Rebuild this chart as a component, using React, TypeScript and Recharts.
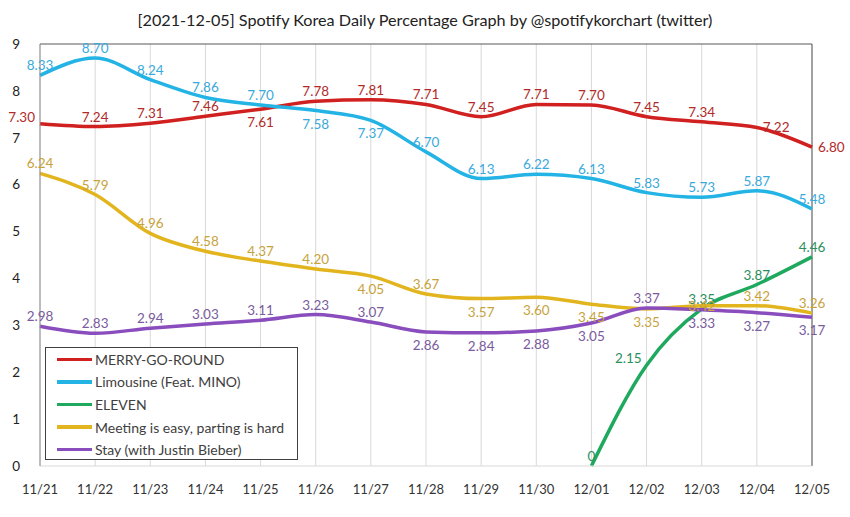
import { LineChart, Line, XAxis, YAxis, CartesianGrid, ReferenceLine } from "recharts";

const FONT = "Lato, 'Open Sans', sans-serif";

const dates = ["11/21", "11/22", "11/23", "11/24", "11/25", "11/26", "11/27", "11/28", "11/29", "11/30", "12/01", "12/02", "12/03", "12/04", "12/05"];
const merryGoRound = [7.3, 7.24, 7.31, 7.46, 7.61, 7.78, 7.81, 7.71, 7.45, 7.71, 7.7, 7.45, 7.34, 7.22, 6.8];
const limousine = [8.33, 8.7, 8.24, 7.86, 7.7, 7.58, 7.37, 6.7, 6.13, 6.22, 6.13, 5.83, 5.73, 5.87, 5.48];
const eleven = [null, null, null, null, null, null, null, null, null, null, 0, 2.15, 3.35, 3.87, 4.46];
const meeting = [6.24, 5.79, 4.96, 4.58, 4.37, 4.2, 4.05, 3.67, 3.57, 3.6, 3.45, 3.35, 3.42, 3.42, 3.26];
const stay = [2.98, 2.83, 2.94, 3.03, 3.11, 3.23, 3.07, 2.86, 2.84, 2.88, 3.05, 3.37, 3.33, 3.27, 3.17];
const yTicks = [0, 1, 2, 3, 4, 5, 6, 7, 8, 9];

// where each value label sits relative to its point
type Place = "above" | "below" | "left" | "right" | "center";
const A: Place = "above", B: Place = "below", L: Place = "left", R: Place = "right", C: Place = "center";
const mgrPlaces = [L, A, A, A, B, A, A, A, A, A, A, A, A, R, R];
const limoPlaces = [A, A, A, A, A, B, B, A, A, A, A, A, A, A, A];
const elevenPlaces = [A, A, A, A, A, A, A, A, A, A, A, L, A, A, A];
const meetingPlaces = [A, A, A, A, A, A, B, A, B, B, B, B, C, A, A];
const stayPlaces = [A, A, A, A, A, A, A, B, B, B, B, A, B, B, B];

const series = [
  { key: "mgr", name: "MERRY-GO-ROUND", values: merryGoRound, color: "#d0201f", text: "#b22a2a", places: mgrPlaces },
  { key: "limo", name: "Limousine (Feat. MINO)", values: limousine, color: "#23b3e4", text: "#3aa9dc", places: limoPlaces },
  { key: "eleven", name: "ELEVEN", values: eleven, color: "#1fa95e", text: "#2a8f5e", places: elevenPlaces },
  { key: "meeting", name: "Meeting is easy, parting is hard", values: meeting, color: "#e2b51f", text: "#c7a33c", places: meetingPlaces },
  { key: "stay", name: "Stay (with Justin Bieber)", values: stay, color: "#8a4dbd", text: "#7a5b9e", places: stayPlaces },
];

const data = dates.map((d, i) => {
  const row: Record<string, string | number | null> = { date: d };
  series.forEach((s) => {
    row[s.key] = s.values[i];
  });
  return row;
});

function makeLabel(places: Place[], color: string) {
  return (props: any) => {
    const { x, y, value, index } = props;
    if (value == null || x == null || y == null) return null;
    const p = places[index] ?? "above";
    let dx = 0;
    let dy = 0;
    let anchor: "middle" | "start" | "end" = "middle";
    if (p === "above") dy = -10;
    if (p === "below") dy = 13;
    if (p === "left") {
      dx = -5;
      dy = -7;
      anchor = "end";
    }
    if (p === "right") {
      dx = 6;
      anchor = "start";
    }
    const txt = value === 0 ? "0" : Number(value).toFixed(2);
    return (
      <text
        key={`lbl-${index}`}
        x={x + dx}
        y={y + dy}
        fill={color}
        fontSize={13.5}
        fontFamily={FONT}
        textAnchor={anchor}
        dominantBaseline="central"
      >
        {txt}
      </text>
    );
  };
}

export default function App() {
  return (
    <div style={{ position: "absolute", left: 0, top: 0, width: 850, height: 517, background: "#fff", fontFamily: FONT }}>
      <div
        style={{
          position: "absolute",
          top: 10,
          left: 0,
          width: 850,
          textAlign: "center",
          fontSize: 16.2,
          color: "#222",
        }}
      >
        [2021-12-05] Spotify Korea Daily Percentage Graph by @spotifykorchart (twitter)
      </div>
      <LineChart width={850} height={517} data={data} margin={{ top: 44, right: 38, left: 0, bottom: 21 }}>
        <CartesianGrid horizontal={false} stroke="#d9d9d9" />
        <XAxis
          dataKey="date"
          height={30}
          tickLine={false}
          tickSize={0}
          tickMargin={19}
          axisLine={{ stroke: "#d9d9d9" }}
          tick={{ fontSize: 13, fill: "#333", fontFamily: FONT }}
          interval={0}
        />
        <YAxis
          domain={[0, 9]}
          ticks={yTicks}
          width={40}
          tickLine={false}
          tickSize={0}
          tickMargin={20}
          axisLine={{ stroke: "#8c8c8c" }}
          tick={{ fontSize: 13.5, fill: "#222", fontFamily: FONT }}
        />
        <ReferenceLine y={9} stroke="#595959" />
        <ReferenceLine x="12/05" stroke="#595959" />
        {series.map((s) => (
          <Line
            key={s.key}
            type="monotone"
            dataKey={s.key}
            name={s.name}
            stroke={s.color}
            strokeWidth={3.5}
            dot={false}
            activeDot={false}
            isAnimationActive={false}
            label={makeLabel(s.places, s.text)}
          />
        ))}
      </LineChart>
      <div
        style={{
          position: "absolute",
          left: 45,
          top: 347,
          width: 253,
          height: 113,
          border: "1px solid #404040",
          background: "#fff",
          padding: "0",
          boxSizing: "border-box",
        }}
      >
        {series.map((s) => (
          <div key={s.key} style={{ display: "flex", alignItems: "center", height: 22.6 }}>
            <span style={{ display: "inline-block", marginLeft: 11, width: 35, height: 3.5, background: s.color }} />
            <span style={{ marginLeft: 3, fontSize: 14, color: "#404040", whiteSpace: "nowrap" }}>{s.name}</span>
          </div>
        ))}
      </div>
    </div>
  );
}
